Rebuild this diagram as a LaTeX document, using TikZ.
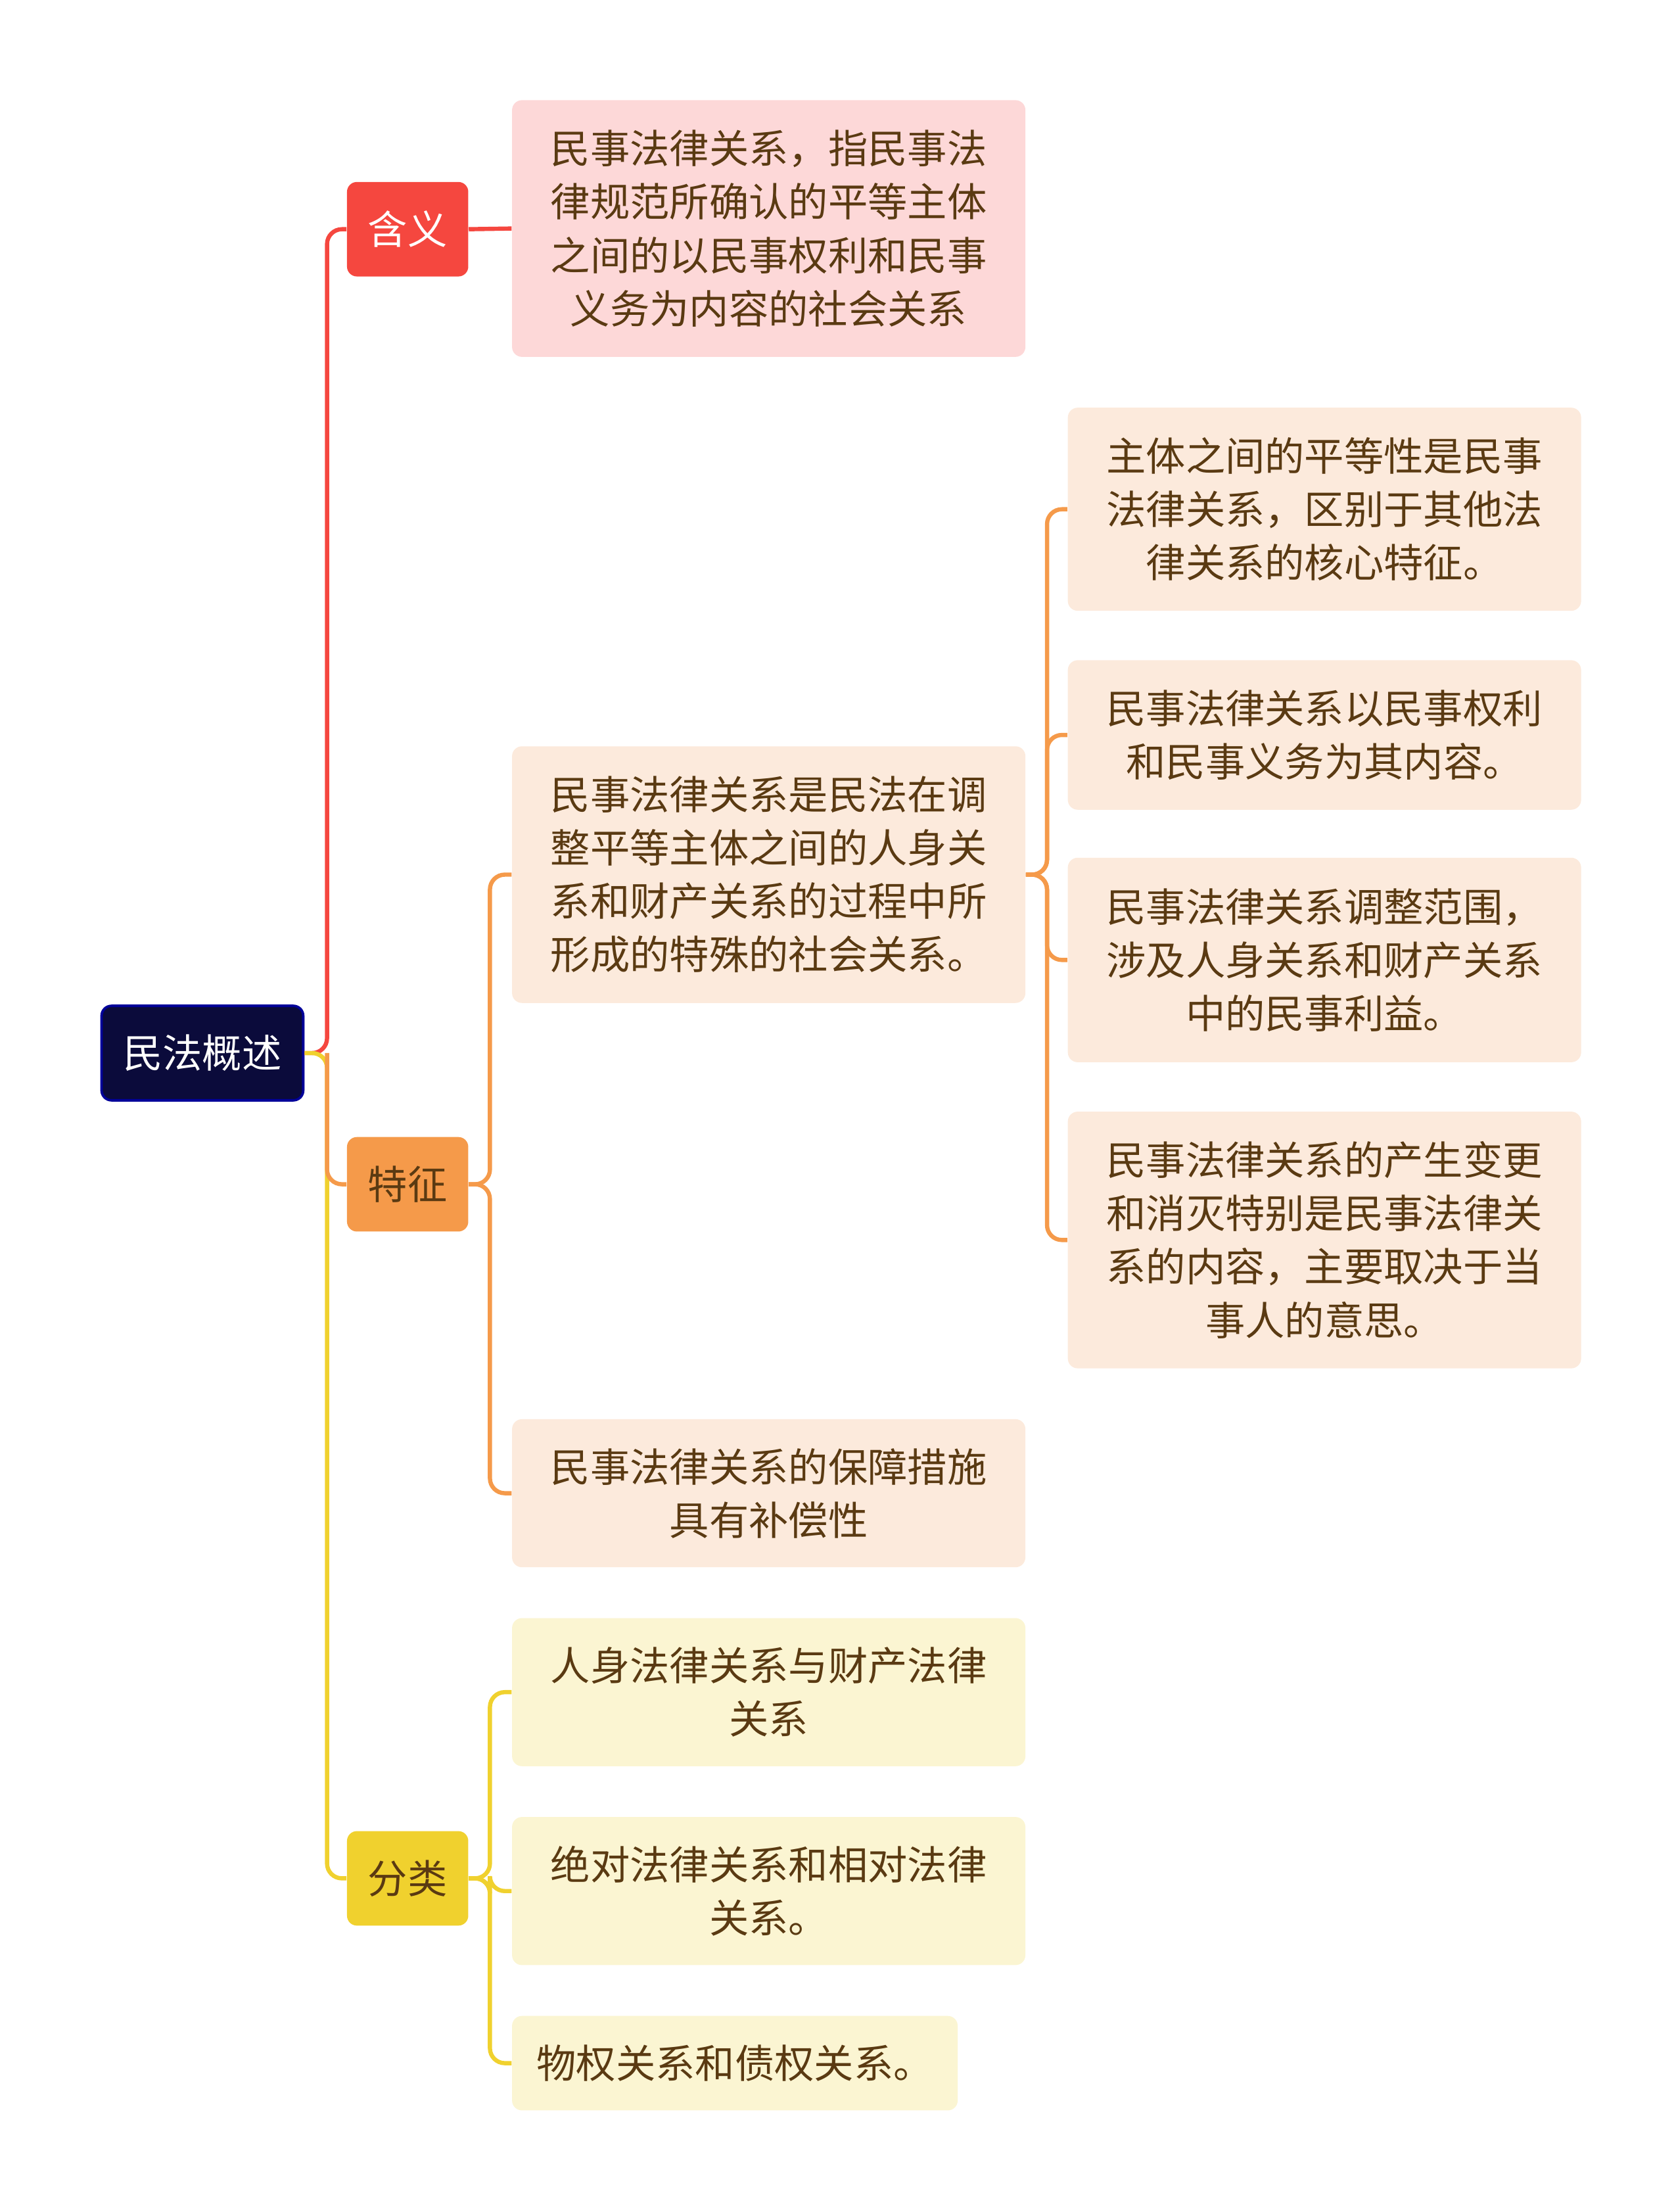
\documentclass[tikz,border=0pt]{standalone}
\usepackage{fontspec}
\setmainfont{Noto Sans CJK SC}
\usetikzlibrary{positioning}
\definecolor{rootfill}{HTML}{0B0B3B}
\definecolor{redc}{HTML}{F5473F}
\definecolor{orac}{HTML}{F59A4A}
\definecolor{yelc}{HTML}{F0D12E}
\definecolor{redleaf}{HTML}{FDD8D8}
\definecolor{oraleaf}{HTML}{FCEADC}
\definecolor{yelleaf}{HTML}{FBF5D2}
\definecolor{txt}{HTML}{5A3A12}
\begin{document}
\begin{tikzpicture}[
    x=0.02cm, y=0.02cm,
    every node/.style={font=\fontsize{16}{21.5}\selectfont, align=center, inner sep=0pt, rounded corners=4pt},
    rootbox/.style={fill=rootfill, draw=blue!60!black, line width=1pt, text=white, minimum width=2.86cm, minimum height=1.34cm},
    catbox/.style={minimum width=1.72cm, minimum height=1.34cm},
    leaf/.style={text=txt, minimum width=7.28cm},
    sub/.style={leaf, fill=oraleaf},
    branch/.style={line width=1.7pt, rounded corners=6pt}
]
\useasboundingbox (0,0) rectangle (1188,1568);

% 中心与分支
\node[rootbox] (root) at (143.5,821.5) {民法概述};
\node[catbox, fill=redc, text=white] (hy) at (289,1405.5) {含义};
\node[catbox, fill=orac, text=txt] (tz) at (289,728.5) {特征};
\node[catbox, fill=yelc, text=txt] (fl) at (289,236.5) {分类};

% 含义
\node[leaf, fill=redleaf, minimum height=3.64cm] (hy1) at (545,1406) {民事法律关系，指民事法\\律规范所确认的平等主体\\之间的以民事权利和民事\\义务为内容的社会关系};

% 特征
\node[leaf, fill=oraleaf, minimum height=3.64cm] (tz1) at (545,948) {民事法律关系是民法在调\\整平等主体之间的人身关\\系和财产关系的过程中所\\形成的特殊的社会关系。};
\node[leaf, fill=oraleaf, minimum height=2.1cm] (tz2) at (545,509.5) {民事法律关系的保障措施\\具有补偿性};
\node[sub, minimum height=2.88cm] (s1) at (939,1207) {主体之间的平等性是民事\\法律关系，区别于其他法\\律关系的核心特征。};
\node[sub, minimum height=2.12cm] (s2) at (939,1047) {民事法律关系以民事权利\\和民事义务为其内容。};
\node[sub, minimum height=2.9cm] (s3) at (939,887.5) {民事法律关系调整范围，\\涉及人身关系和财产关系\\中的民事利益。};
\node[sub, minimum height=3.64cm] (s4) at (939,689) {民事法律关系的产生变更\\和消灭特别是民事法律关\\系的内容，主要取决于当\\事人的意思。};

% 分类
\node[leaf, fill=yelleaf, minimum height=2.1cm] (fl1) at (545,368.5) {人身法律关系与财产法律\\关系};
\node[leaf, fill=yelleaf, minimum height=2.1cm] (fl2) at (545,227.5) {绝对法律关系和相对法律\\关系。};
\node[leaf, fill=yelleaf, minimum width=6.32cm, minimum height=1.34cm] (fl3) at (521,105.5) {物权关系和债权关系。};

% 连线
\draw[branch, redc] (root.east) -- ++(16,0) |- (hy.west);
\draw[branch, yelc] (root.east) -- ++(16,0) |- (fl.west);
\draw[branch, orac] (root.east) ++(16,0) |- (tz.west);
\draw[branch, redc] (hy.east) -- (hy1.west);
\foreach \n in {tz1,tz2}
  \draw[branch, orac] (tz.east) -- ++(15,0) |- (\n.west);
\foreach \n in {s1,s2,s3,s4}
  \draw[branch, orac] (tz1.east) -- ++(15,0) |- (\n.west);
\foreach \n in {fl1,fl2,fl3}
  \draw[branch, yelc] (fl.east) -- ++(15,0) |- (\n.west);
\end{tikzpicture}
\end{document}
